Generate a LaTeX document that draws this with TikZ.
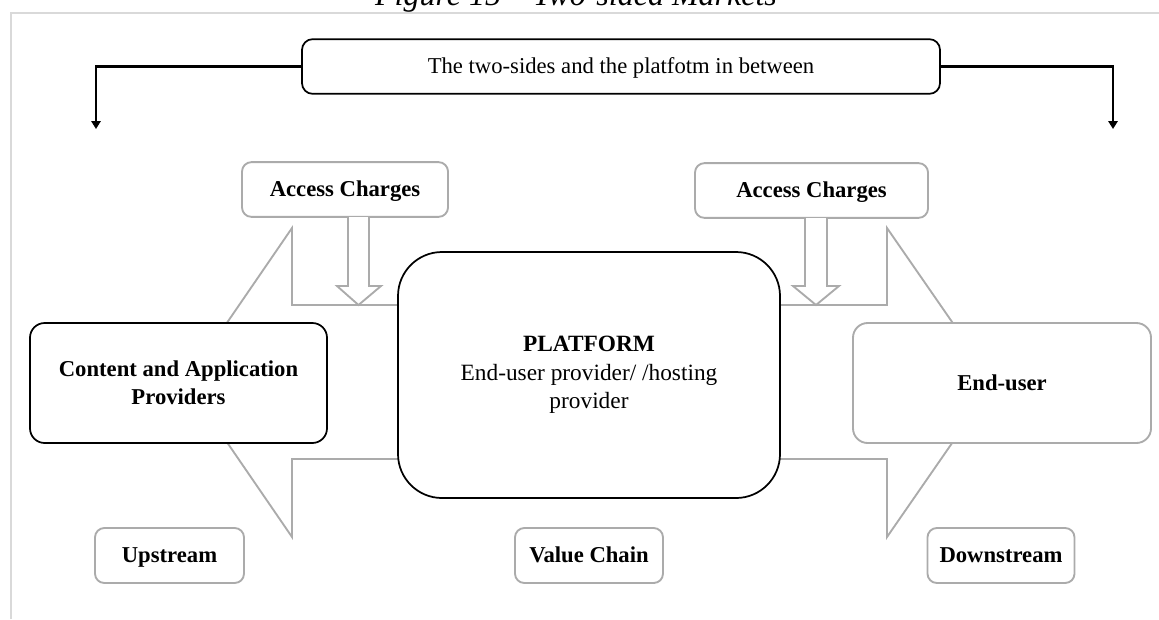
\documentclass[tikz,border=0pt]{standalone}
\usepackage{fontspec}
\setmainfont{Liberation Serif}
\usetikzlibrary{arrows.meta}
\definecolor{framegray}{HTML}{D9D9D9}
\definecolor{boxgray}{HTML}{ABABAB}
\tikzset{
  blackbox/.style={draw=black, line width=1.3pt, fill=white, rounded corners=8pt,
    inner sep=0pt, align=center},
  graybox/.style={draw=boxgray, line width=1.4pt, fill=white, rounded corners=7pt,
    inner sep=0pt, align=center},
  labeltext/.style={font=\fontsize{17}{21}\selectfont\bfseries},
  oneline/.style={text height=13pt, text depth=2pt},
  bigarrow/.style={draw=boxgray, line width=1.4pt, fill=white, line join=miter},
  conn/.style={draw=black, line width=1.6pt,
    -{Triangle[width=7pt,length=6pt]}},
}
\begin{document}
\begin{tikzpicture}[x=0.75pt,y=-0.75pt]
\useasboundingbox (0,0) rectangle (1159,619);

% page frame and caption
\draw[framegray, line width=1pt] (11,619) -- (11,13) -- (1159,13);
\node[anchor=base, font=\fontsize{24}{28}\selectfont\itshape] (cap) at (576,5)
  {Figure 15 – Two-sided Markets};

% top banner with its two branches
\node[blackbox, oneline, minimum width=478.5pt, minimum height=41pt,
  font=\fontsize{17}{21}\selectfont] (top) at (621,66.5)
  {The two-sides and the platfotm in between};
\coordinate (lt) at (96,129);
\coordinate (rt) at (1113,129);
\draw[conn] (top.west) -| (lt);
\draw[conn] (top.east) -| (rt);

% large hollow arrows on either side of the platform
\draw[bigarrow] (420,305) -- (292,305) -- (292,228) -- (186,382.5)
  -- (292,537) -- (292,459) -- (420,459);
\draw[bigarrow] (760,305) -- (887,305) -- (887,228) -- (994,382.5)
  -- (887,537) -- (887,459) -- (760,459);

% access charge boxes with their hollow down arrows
\node[graybox, labeltext, oneline, minimum width=154.5pt, minimum height=41pt]
  (accL) at (345,189.5) {Access Charges};
\node[graybox, labeltext, oneline, minimum width=174.75pt, minimum height=41pt]
  (accR) at (811.5,190.5) {Access Charges};
\draw[bigarrow] (348,217) -- (348,286) -- (337,286) -- (358.5,305)
  -- (381,286) -- (369,286) -- (369,217);
\draw[bigarrow] (805,218) -- (805,286) -- (793,286) -- (816,305)
  -- (839,286) -- (827,286) -- (827,218);

% platform and the two sides
\node[blackbox, rounded corners=33pt, minimum width=286.5pt, minimum height=184.5pt,
  font=\fontsize{17.5}{21.5}\selectfont] (plat) at (589,375)
  {\textbf{PLATFORM}\\End-user provider/ /hosting\\provider};
\node[blackbox, rounded corners=11pt, labeltext, minimum width=222.75pt,
  minimum height=90pt] (cap1) at (178.5,383)
  {Content and Application\\Providers};
\node[graybox, rounded corners=11pt, labeltext, oneline, minimum width=223.5pt,
  minimum height=90pt] (user) at (1002,383) {End-user};

% value chain labels
\node[graybox, labeltext, oneline, minimum width=111.75pt, minimum height=41.25pt]
  (up) at (169.5,555.5) {Upstream};
\node[graybox, labeltext, oneline, minimum width=111pt, minimum height=41.25pt]
  (vc) at (589,555.5) {Value Chain};
\node[graybox, labeltext, oneline, minimum width=110.25pt, minimum height=41.25pt]
  (down) at (1001,555.5) {Downstream};
\end{tikzpicture}
\end{document}
